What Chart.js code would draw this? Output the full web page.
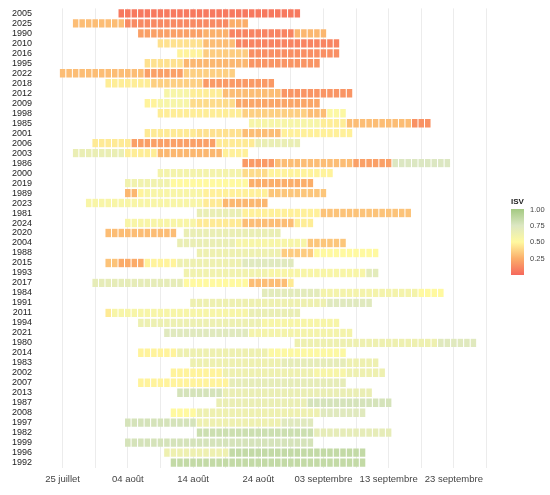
<!DOCTYPE html>
<html lang="fr">
<head>
<meta charset="UTF-8">
<title>ISV</title>
<script src="https://cdn.jsdelivr.net/npm/chart.js"></script>
<style>
  html, body { margin: 0; padding: 0; background: #fff; }
  #wrap { width: 550px; height: 495px; }
</style>
</head>
<body>
<div id="wrap"><canvas id="isvChart" width="550" height="495"></canvas></div>
<script>
// rows, top to bottom
const years = ['2005','2025','1990','2010','2016','1995','2022','2018','2012','2009',
  '1998','1985','2001','2006','2003','1986','2000','2019','1989','2023',
  '1981','2024','2020','2004','1988','2015','1993','2017','1984','1991',
  '2011','1994','2021','1980','2014','1983','2002','2007','2013','1987',
  '2008','1997','1982','1999','1996','1992'];

// per row: [first day, last day, ISV], day 0 = 25 juillet
const segments = [
  [[9,36,0.06]],
  [[2,9,0.3],[10,25,0.12],[26,28,0.25]],
  [[12,21,0.2],[22,25,0.26],[26,35,0.1],[36,40,0.28]],
  [[15,21,0.42],[22,26,0.3],[27,42,0.1]],
  [[18,21,0.48],[22,28,0.35],[29,42,0.14]],
  [[13,18,0.42],[19,28,0.28],[29,39,0.16]],
  [[0,12,0.3],[13,18,0.2],[19,26,0.36]],
  [[7,13,0.46],[14,21,0.36],[22,32,0.18]],
  [[16,19,0.56],[20,24,0.46],[25,33,0.3],[34,44,0.16]],
  [[13,14,0.48],[15,19,0.56],[20,26,0.4],[27,39,0.22]],
  [[15,27,0.46],[28,37,0.36],[38,40,0.3],[41,43,0.52]],
  [[29,39,0.56],[40,43,0.46],[44,53,0.3],[54,56,0.15]],
  [[13,20,0.45],[21,27,0.42],[28,33,0.3],[34,44,0.47]],
  [[5,10,0.45],[11,23,0.2],[24,29,0.45],[30,36,0.65]],
  [[2,9,0.65],[10,14,0.46],[15,24,0.28],[25,28,0.47]],
  [[28,32,0.18],[33,44,0.3],[45,50,0.2],[51,59,0.75]],
  [[15,27,0.58],[28,31,0.4],[32,41,0.48]],
  [[10,16,0.6],[17,28,0.5],[29,38,0.25]],
  [[10,11,0.28],[12,12,0.48],[13,21,0.55],[22,31,0.47],[32,40,0.33]],
  [[4,21,0.55],[22,24,0.45],[25,31,0.28]],
  [[21,27,0.65],[28,39,0.47],[40,53,0.32]],
  [[10,20,0.55],[21,27,0.45],[28,35,0.3],[36,38,0.46]],
  [[7,17,0.3],[19,33,0.65]],
  [[18,26,0.65],[27,37,0.56],[38,43,0.33]],
  [[21,33,0.62],[34,38,0.35],[39,48,0.5]],
  [[7,8,0.32],[9,12,0.24],[13,17,0.48],[18,27,0.62],[28,35,0.72]],
  [[19,31,0.6],[32,46,0.55],[47,48,0.7]],
  [[5,18,0.68],[19,28,0.5],[29,34,0.3],[35,35,0.45]],
  [[31,39,0.7],[40,54,0.58],[55,58,0.5]],
  [[20,40,0.62],[41,47,0.72]],
  [[7,7,0.45],[8,28,0.56],[29,36,0.65]],
  [[12,30,0.63],[31,42,0.56]],
  [[16,28,0.72],[29,44,0.58]],
  [[36,57,0.62],[58,63,0.72]],
  [[12,17,0.48],[18,31,0.62],[32,43,0.52]],
  [[20,33,0.62],[34,43,0.68],[44,48,0.62]],
  [[17,24,0.48],[25,38,0.62],[39,43,0.56],[44,49,0.62]],
  [[12,25,0.48],[26,43,0.68]],
  [[18,24,0.78],[25,47,0.65]],
  [[24,37,0.65],[38,50,0.78]],
  [[17,20,0.5],[21,39,0.62],[40,46,0.72]],
  [[10,20,0.78],[21,33,0.62],[34,38,0.72]],
  [[21,38,0.82],[39,50,0.68]],
  [[10,38,0.78]],
  [[16,25,0.62],[26,46,0.86]],
  [[17,46,0.86]]
];

const tickDays = [0, 10, 20, 30, 40, 50, 60];
const tickLabels = ['25 juillet', '04 août', '14 août', '24 août', '03 septembre', '13 septembre', '23 septembre'];
const legendTicks = [0.25, 0.5, 0.75, 1.0];

// colour ramp for ISV 0..1
const stops = [
  [0.0, [246, 104, 92]],
  [0.25, [251, 174, 106]],
  [0.5, [255, 249, 160]],
  [0.75, [220, 231, 194]],
  [1.0, [163, 201, 130]]
];
function isvColor(v) {
  for (let i = 1; i < stops.length; i++) {
    if (v <= stops[i][0]) {
      const a = stops[i - 1], b = stops[i];
      const t = (v - a[0]) / (b[0] - a[0]);
      const c = a[1].map((x, k) => Math.round(x + (b[1][k] - x) * t));
      return `rgb(${c[0]},${c[1]},${c[2]})`;
    }
  }
  const c = stops[stops.length - 1][1];
  return `rgb(${c[0]},${c[1]},${c[2]})`;
}

// one cell per day
const cells = [];
segments.forEach((row, i) => {
  row.forEach(([a, b, v]) => {
    for (let d = a; d <= b; d++) cells.push({ x: [d - 0.5, d + 0.5], y: years[i], v: v });
  });
});

const legendPlugin = {
  id: 'isvLegend',
  afterDraw(chart) {
    const ctx = chart.ctx;
    const x = 511, top = 209, bottom = 275, w = 13;
    ctx.save();
    const g = ctx.createLinearGradient(0, bottom, 0, top);
    stops.forEach(s => g.addColorStop(s[0], isvColor(s[0])));
    ctx.fillStyle = g;
    ctx.fillRect(x, top, w, bottom - top);
    ctx.fillStyle = '#222';
    ctx.font = 'bold 8px "Liberation Sans", Arial, sans-serif';
    ctx.textBaseline = 'bottom';
    ctx.fillText('ISV', x, top - 3);
    ctx.font = '7.5px "Liberation Sans", Arial, sans-serif';
    ctx.fillStyle = '#444';
    ctx.textBaseline = 'middle';
    legendTicks.forEach(t => {
      const y = bottom - (bottom - top) * t + (t === 1 ? 1 : 0);
      ctx.fillText(t.toFixed(2), x + w + 6, y);
    });
    ctx.restore();
  }
};

new Chart(document.getElementById('isvChart').getContext('2d'), {
  type: 'bar',
  data: {
    labels: years,
    datasets: [{
      data: cells,
      backgroundColor: c => c.raw ? isvColor(c.raw.v) : '#fff',
      borderColor: 'rgba(255,255,255,0.35)',
      borderWidth: 0.5,
      borderSkipped: false,
      barPercentage: 0.94,
      categoryPercentage: 1.0,
      grouped: false
    }]
  },
  options: {
    indexAxis: 'y',
    responsive: false,
    animation: false,
    layout: { padding: { left: 9, right: 57, top: 0, bottom: 4 } },
    plugins: { legend: { display: false }, tooltip: { enabled: false } },
    scales: {
      x: {
        type: 'linear',
        min: -3,
        max: 66,
        border: { display: false },
        grid: {
          color: c => (c.tick && c.tick.value % 5 === 0) ? '#ececec' : 'rgba(0,0,0,0)',
          drawTicks: false
        },
        afterBuildTicks: axis => {
          const t = [];
          for (let d = 0; d <= 65; d += 5) t.push({ value: d });
          axis.ticks = t;
        },
        ticks: {
          autoSkip: false,
          maxRotation: 0,
          padding: 6,
          color: '#444',
          font: { family: '"Liberation Sans", Arial, sans-serif', size: 9.5 },
          callback: v => {
            const i = tickDays.indexOf(v);
            return i >= 0 ? tickLabels[i] : '';
          }
        }
      },
      y: {
        type: 'category',
        border: { display: false },
        grid: { display: false },
        ticks: {
          autoSkip: false,
          padding: 3,
          color: '#222',
          font: { family: '"Liberation Sans", Arial, sans-serif', size: 9 }
        }
      }
    }
  },
  plugins: [legendPlugin]
});
</script>
</body>
</html>
